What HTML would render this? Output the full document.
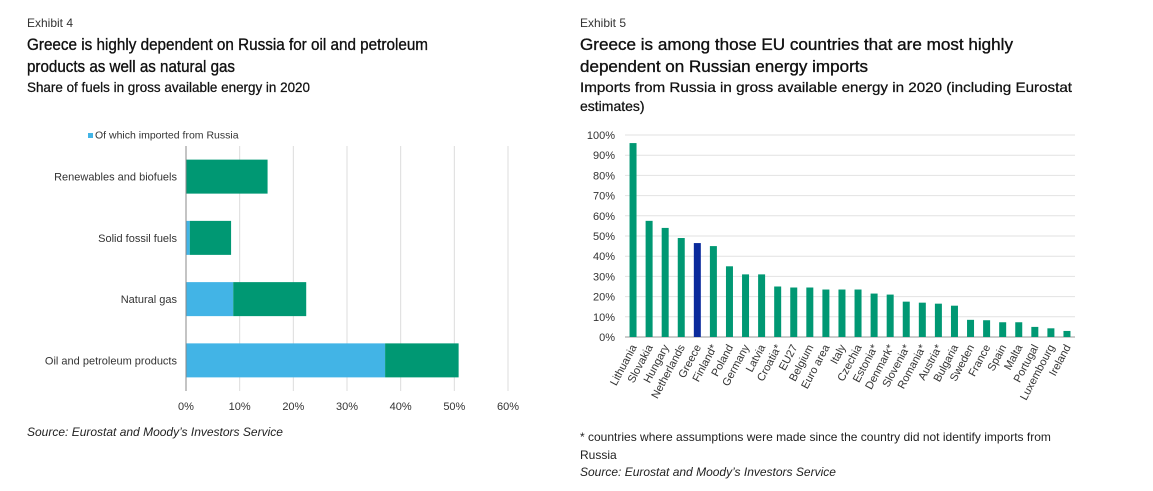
<!DOCTYPE html>
<html><head><meta charset="utf-8"><style>
html,body{margin:0;padding:0;background:#fff;}
svg{display:block;font-family:"Liberation Sans",Arial,sans-serif;}
.t{font-size:16.5px;fill:#111;stroke:#111;stroke-width:0.35;}
.s{font-size:14px;fill:#111;stroke:#111;stroke-width:0.25;}
.ex{font-size:12px;fill:#333;}
.ax{font-size:11px;fill:#333;}
.src{font-size:12px;fill:#222;font-style:italic;}
</style></head><body>
<svg id="c" width="1153" height="491" viewBox="0 0 1153 491">
<g>
<text class="ex" x="27" y="27">Exhibit 4</text>
<text class="t" x="27" y="50" textLength="401" lengthAdjust="spacingAndGlyphs">Greece is highly dependent on Russia for oil and petroleum</text>
<text class="t" x="27" y="72" textLength="208" lengthAdjust="spacingAndGlyphs">products as well as natural gas</text>
<text class="s" x="27" y="92" textLength="283" lengthAdjust="spacingAndGlyphs">Share of fuels in gross available energy in 2020</text>
</g>
<g id="left"></g>
<text class="src" x="27" y="436">Source: Eurostat and Moody’s Investors Service</text>

<g>
<text class="ex" x="580" y="27">Exhibit 5</text>
<text class="t" x="580" y="50" textLength="433" lengthAdjust="spacingAndGlyphs">Greece is among those EU countries that are most highly</text>
<text class="t" x="580" y="72" textLength="288" lengthAdjust="spacingAndGlyphs">dependent on Russian energy imports</text>
<text class="s" x="580" y="92" textLength="492" lengthAdjust="spacingAndGlyphs">Imports from Russia in gross available energy in 2020 (including Eurostat</text>
<text class="s" x="580" y="111">estimates)</text>
</g>
<g id="right"></g>
<text x="580" y="441" style="font-size:12px;fill:#222">* countries where assumptions were made since the country did not identify imports from</text>
<text x="580" y="459" style="font-size:12px;fill:#222">Russia</text>
<text class="src" x="580" y="476">Source: Eurostat and Moody’s Investors Service</text>
</svg>
<script>
// Exhibit 4 data
const fuelCategories = ["Renewables and biofuels","Solid fossil fuels","Natural gas","Oil and petroleum products"];
const russiaShare = [0, 0.7, 8.8, 37.1];
const totalShare = [15.2, 8.4, 22.4, 50.8];
const xTicks = [0,10,20,30,40,50,60];
// Exhibit 5 data
const countries = ["Lithuania","Slovakia","Hungary","Netherlands","Greece","Finland*","Poland","Germany","Latvia","Croatia*","EU27","Belgium","Euro area","Italy","Czechia","Estonia*","Denmark*","Slovenia*","Romania*","Austria*","Bulgaria","Sweden","France","Spain","Malta","Portugal","Luxembourg","Ireland"];
const importShare = [96,57.5,54,49,46.5,45,35,31,31,25,24.5,24.5,23.5,23.5,23.5,21.5,21,17.5,17,16.5,15.5,8.5,8.3,7.3,7.3,5,4.3,3];
const yTicks = [0,10,20,30,40,50,60,70,80,90,100];

const NS="http://www.w3.org/2000/svg";
function mk(parent,tag,attrs,txt){const e=document.createElementNS(NS,tag);for(const k in attrs)e.setAttribute(k,attrs[k]);if(txt!=null)e.textContent=txt;parent.appendChild(e);return e;}

// Left chart
const L=document.getElementById('left');
const x0=186,xMax=60,x60=508,plotTop=146,plotBot=391;
const xs=v=>x0+(v/xMax)*(x60-x0);
const band=(plotBot-plotTop)/fuelCategories.length, bh=34;
xTicks.forEach(t=>{
  if(t>0){const g=mk(L,'line',{x1:xs(t),x2:xs(t),y1:plotTop,y2:plotBot,stroke:'#dcdcdc','stroke-width':1});
  
  }
  const tx=mk(L,'text',{x:xs(t),y:410,'text-anchor':'middle',class:'ax'},t+'%');
  
  
});
fuelCategories.forEach((c,i)=>{
  const cy=plotTop+band*(i+0.5);
  const r=mk(L,'rect',{x:xs(0),y:cy-bh/2,width:xs(russiaShare[i])-xs(0),height:bh,fill:'#42b4e6'});
  
  
  const g=mk(L,'rect',{x:xs(russiaShare[i]),y:cy-bh/2,width:xs(totalShare[i])-xs(russiaShare[i]),height:bh,fill:'#009873'});
  
  
  const t=mk(L,'text',{x:177,y:cy+4,'text-anchor':'end',class:'ax'},c);
  
  
});
const ax=mk(L,'line',{x1:x0,x2:x0,y1:plotTop,y2:plotBot,stroke:'#888','stroke-width':1});


const lg=mk(L,'rect',{x:88,y:133,width:5,height:5,fill:'#42b4e6'});


const lt=mk(L,'text',{x:95,y:138.5,style:'font-size:10.5px;fill:#333'},'Of which imported from Russia');



// Right chart
const R=document.getElementById('right');
const xl=625,xr=1075,y0=337,y100=135;
const ys=v=>y0-(v/100)*(y0-y100);
const bw=(xr-xl)/countries.length;
yTicks.forEach(t=>{
  const g=mk(R,'line',{x1:xl,x2:xr,y1:ys(t),y2:ys(t),stroke:t===0?'#999':'#e2e2e2','stroke-width':1});
  
  
  const tx=mk(R,'text',{x:615,y:ys(t)+4,'text-anchor':'end',class:'ax'},t+'%');
  
  
});
countries.forEach((c,i)=>{
  const cx=xl+bw*(i+0.5);
  const b=mk(R,'rect',{x:cx-3.5,y:ys(importShare[i]),width:7,height:y0-ys(importShare[i]),fill:c==='Greece'?'#0a2a9c':'#009873'});
  
  
  const t=mk(R,'text',{x:cx+4,y:y0+10,'text-anchor':'end',class:'ax',transform:`rotate(-62 ${cx+4} ${y0+10})`},c);
  
  
});
</script>
</body></html>
